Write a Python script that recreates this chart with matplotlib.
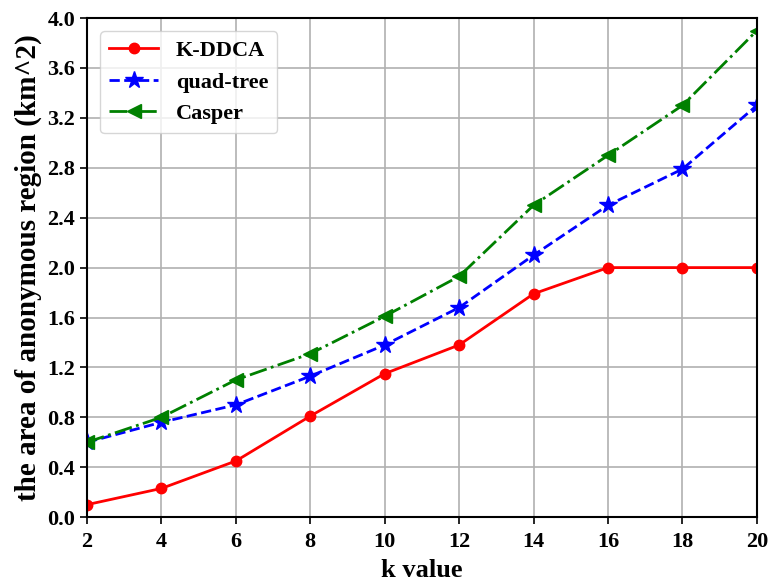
import matplotlib
matplotlib.use("Agg")
import matplotlib.pyplot as plt

k_values = [2, 4, 6, 8, 10, 12, 14, 16, 18, 20]
kddca = [0.10, 0.23, 0.45, 0.81, 1.15, 1.38, 1.79, 2.00, 2.00, 2.00]
quad_tree = [0.60, 0.76, 0.90, 1.13, 1.38, 1.68, 2.10, 2.50, 2.79, 3.30]
casper = [0.60, 0.80, 1.10, 1.31, 1.61, 1.93, 2.50, 2.90, 3.30, 3.90]
y_ticks = [0.0, 0.4, 0.8, 1.2, 1.6, 2.0, 2.4, 2.8, 3.2, 3.6, 4.0]

plt.rcParams["font.family"] = ["Liberation Serif", "DejaVu Serif"]
plt.rcParams["font.weight"] = "bold"

fig = plt.figure(figsize=(7.7, 5.83), dpi=100)
ax = fig.add_axes([0.113, 0.113, 0.870, 0.856])

ax.plot(k_values, kddca, color="red", linestyle="-", marker="o",
        markersize=7.5, linewidth=2, label="K-DDCA")
ax.plot(k_values, quad_tree, color="blue", linestyle="--", marker="*",
        markersize=13, linewidth=2, label="quad-tree")
ax.plot(k_values, casper, color="green", linestyle="-.", marker="<",
        markersize=10, linewidth=2, label="Casper")

ax.set_xlim(2, 20)
ax.set_ylim(0, 4.0)
ax.set_xticks(k_values)
ax.set_yticks(y_ticks)
ax.set_yticklabels([f"{v:.1f}" for v in y_ticks])
ax.tick_params(labelsize=16, width=1.2, length=5)
ax.tick_params(axis="x", pad=6)
for lbl in ax.get_xticklabels() + ax.get_yticklabels():
    lbl.set_fontweight("bold")
ax.grid(True, color="#b0b0b0", linewidth=1.2)
for sp in ax.spines.values():
    sp.set_linewidth(1.5)

ax.set_xlabel("k value", fontsize=19, fontweight="bold", labelpad=5)
ax.set_ylabel("the area of anonymous region (km^2)", fontsize=21,
              fontweight="bold", labelpad=4)

ax.legend(loc="upper left", prop={"size": 16, "weight": "bold"},
          borderaxespad=0.6, handlelength=2.2)

fig.savefig("out.png", dpi=100)
